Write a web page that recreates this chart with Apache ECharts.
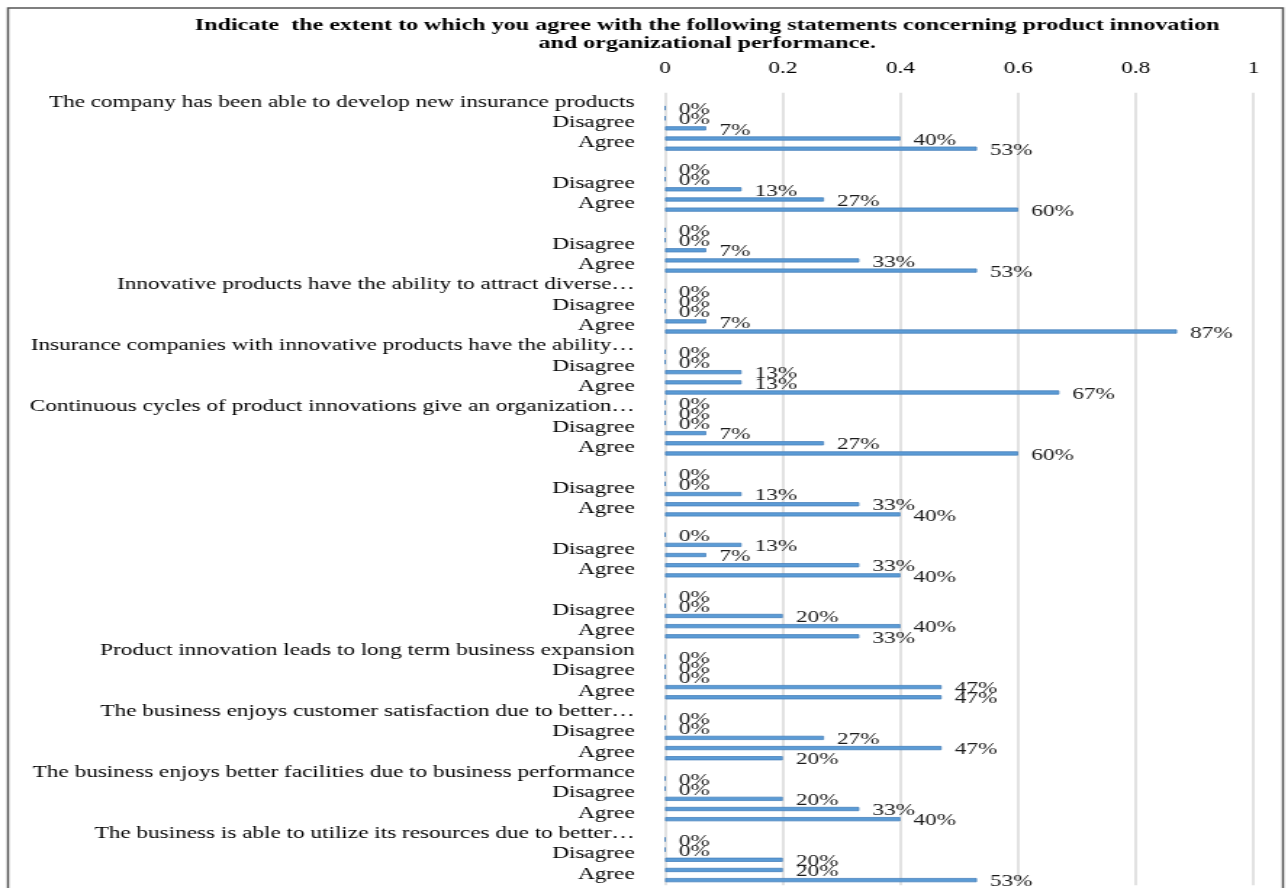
<!DOCTYPE html>
<html>
<head>
<meta charset="utf-8">
<script src="https://cdn.jsdelivr.net/npm/echarts@6/dist/echarts.min.js"></script>
<style>
html,body{margin:0;padding:0;background:#fff;overflow:hidden}
#wrap{width:1288px;height:888px;overflow:hidden;position:relative;background:#fff}
#chart{width:888px;height:888px;transform:scaleX(1.4505);transform-origin:0 0}
</style>
</head>
<body>
<div id="wrap"><div id="chart"></div></div>
<script>
const titleText = 'Indicate  the extent to which you agree with the following statements concerning product innovation\nand organizational performance.';
const statements = [
  'The company has been able to develop new insurance products',
  '',
  '',
  'Innovative products have the ability to attract diverse…',
  'Insurance companies with innovative products have the ability…',
  'Continuous cycles of product innovations give an organization…',
  '',
  '',
  '',
  'Product innovation leads to long term business expansion',
  'The business enjoys customer satisfaction due to better…',
  'The business enjoys better facilities due to business performance',
  'The business is able to utilize its resources due to better…'
];
const levels = ['Strongly disagree', 'Disagree', 'Neutral', 'Agree', 'Strongly agree'];
// percent values per statement (row of the statement itself, then the five levels)
const headerRow        = [null, null, null, null, null, 0, null, null, null, null, null, null, null];
const stronglyDisagree = [0, 0, 0, 0, 0, 0, 0, 0, 0, 0, 0, 0, 0];
const disagree         = [0, 0, 0, 0, 0, 0, 0, 13, 0, 0, 0, 0, 0];
const neutral          = [7, 13, 7, 0, 13, 7, 13, 7, 20, 0, 27, 20, 20];
const agree            = [40, 27, 33, 7, 13, 27, 33, 33, 40, 47, 47, 33, 20];
const stronglyAgree    = [53, 60, 53, 87, 67, 60, 40, 40, 33, 47, 20, 40, 53];
const xTicks = [0, 0.2, 0.4, 0.6, 0.8, 1];

const categories = [];
const values = [];
statements.forEach(function (s, g) {
  categories.push(s);
  values.push(headerRow[g] == null ? null : headerRow[g] / 100);
  const row = [stronglyDisagree[g], disagree[g], neutral[g], agree[g], stronglyAgree[g]];
  levels.forEach(function (l, k) {
    categories.push(l);
    values.push(row[k] / 100);
  });
});

const FONT = '"Liberation Serif", "Times New Roman", serif';
const chart = echarts.init(document.getElementById('chart'), null, {renderer: 'canvas'});
chart.setOption({
  backgroundColor: '#fff',
  animation: false,
  title: {
    text: titleText,
    left: 482.5,
    top: 12,
    textAlign: 'center',
    textStyle: {fontFamily: FONT, fontWeight: 'bold', fontSize: 16.6, lineHeight: 18, color: '#000'}
  },
  graphic: [{
    type: 'rect', silent: true,
    shape: {x: 5.5, y: 8, width: 879, height: 900},
    style: {fill: 'none', stroke: '#555', lineWidth: 1.5}
  }],
  grid: {left: 458.5, right: 23.8, top: 92.8, bottom: 2.8, outerBoundsMode: 'none', containLabel: false},
  xAxis: {
    type: 'value', position: 'top', min: xTicks[0], max: xTicks[xTicks.length - 1], interval: xTicks[1] - xTicks[0],
    axisLine: {show: false}, axisTick: {show: false},
    axisLabel: {fontFamily: FONT, fontSize: 16, color: '#000', margin: 16},
    splitLine: {show: true, lineStyle: {color: '#d9d9d9', width: 1.5}}
  },
  yAxis: {
    type: 'category', inverse: true, data: categories,
    axisLine: {show: false}, axisTick: {show: false}, splitLine: {show: false},
    axisLabel: {interval: 1, fontFamily: FONT, fontSize: 16, color: '#000', margin: 21, verticalAlign: 'top', lineHeight: 9}
  },
  series: [{
    type: 'bar',
    data: values,
    barWidth: 4.2,
    itemStyle: {color: '#5b9bd5', borderColor: '#4a83bd', borderWidth: 0.8},
    label: {
      show: true, position: 'right', distance: 9, offset: [0, 2],
      fontFamily: FONT, fontSize: 16, color: '#1a1a1a',
      formatter: function (p) { return Math.round(p.value * 100) + '%'; }
    }
  }]
});
</script>
</body>
</html>
